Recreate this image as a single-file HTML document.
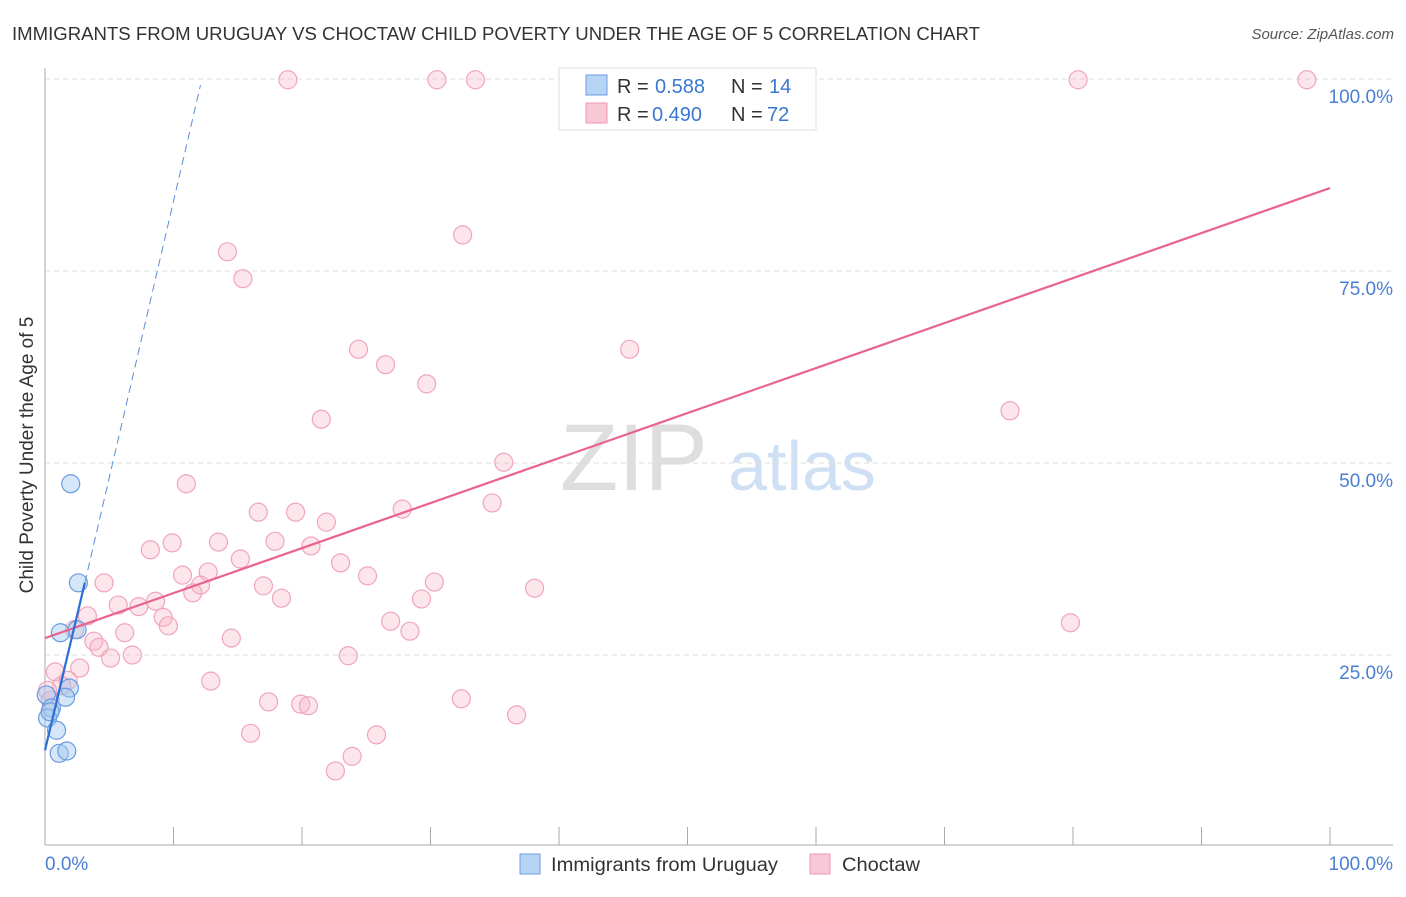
<!DOCTYPE html>
<html><head><meta charset="utf-8"><style>
body{margin:0;background:#fff;font-family:"Liberation Sans",sans-serif;}
svg text{font-family:"Liberation Sans",sans-serif;}
</style></head><body>
<svg id="chart" width="1406" height="892" xmlns="http://www.w3.org/2000/svg">
<text x="12" y="40" font-size="18" fill="#333" textLength="968" lengthAdjust="spacingAndGlyphs">IMMIGRANTS FROM URUGUAY VS CHOCTAW CHILD POVERTY UNDER THE AGE OF 5 CORRELATION CHART</text>
<text x="1394" y="39" font-size="15" fill="#555" font-style="italic" text-anchor="end">Source: ZipAtlas.com</text>
<text x="634" y="490" font-size="95" fill="#dedede" font-family="Liberation Serif" text-anchor="middle">ZIP</text>
<text x="802" y="490" font-size="70" fill="#d0e0f4" text-anchor="middle">atlas</text>
<g id="grid"></g>
<line x1="45" y1="68" x2="45" y2="845" stroke="#aaa"/>
<line x1="45" y1="845" x2="1393" y2="845" stroke="#aaa"/>
<g id="xticks"></g>
<text x="33" y="455" font-size="19" fill="#333" text-anchor="middle" transform="rotate(-90 33 455)">Child Poverty Under the Age of 5</text>
<text x="45" y="870" font-size="19" fill="#4a7fd4">0.0%</text>
<text x="1393" y="870" font-size="19" fill="#4a7fd4" text-anchor="end">100.0%</text>
<g id="marks"></g>
<g>
<rect x="559" y="68" width="257" height="62" fill="#fff" stroke="#ddd"/>
<rect x="586" y="75" width="21" height="20" fill="#b8d4f5" stroke="#6a9be0"/>
<text x="617" y="93" font-size="20" fill="#333">R =</text>
<text x="655" y="93" font-size="20" fill="#3a78d0">0.588</text>
<text x="731" y="93" font-size="20" fill="#333">N =</text>
<text x="769" y="93" font-size="20" fill="#3a78d0">14</text>
<rect x="586" y="103" width="21" height="20" fill="#f9c8d6" stroke="#ee9ab4"/>
<text x="617" y="121" font-size="20" fill="#333">R =</text>
<text x="652" y="121" font-size="20" fill="#3a78d0">0.490</text>
<text x="731" y="121" font-size="20" fill="#333">N =</text>
<text x="767" y="121" font-size="20" fill="#3a78d0">72</text>
</g>
<g><rect x="520" y="854" width="20" height="20" fill="#b8d4f5" stroke="#6a9be0"/><text x="551" y="871" font-size="19" fill="#333" textLength="227" lengthAdjust="spacingAndGlyphs">Immigrants from Uruguay</text></g>
<g><rect x="810" y="854" width="20" height="20" fill="#f9c8d6" stroke="#ee9ab4"/><text x="842" y="871" font-size="19" fill="#333" textLength="78" lengthAdjust="spacingAndGlyphs">Choctaw</text></g>
</svg>
<script>
const yTicks=[25,50,75,100];
const yTickLabels=["25.0%","50.0%","75.0%","100.0%"];
const xTicks=[0,10,20,30,40,50,60,70,80,90,100];
const pinkX=[18.9,30.5,33.5,80.4,98.2,32.5,14.2,15.4,24.4,45.5,26.5,29.7,21.5,75.1,35.7,11.0,34.8,27.8,16.6,19.5,21.9,8.2,9.9,13.5,17.9,20.7,15.2,23.0,10.7,12.7,25.1,30.3,4.6,12.1,17.0,11.5,38.1,18.4,29.3,5.7,7.3,8.6,3.3,9.2,9.6,26.9,28.4,79.8,6.2,2.3,14.5,3.8,4.2,6.8,5.1,23.6,2.7,0.8,1.8,1.3,12.9,32.4,17.4,19.9,20.5,36.7,16.0,25.8,23.9,22.6,0.2,0.4];
const pinkY=[99.9,99.9,99.9,99.9,99.9,79.7,77.5,74.0,64.8,64.8,62.8,60.3,55.7,56.8,50.1,47.3,44.8,44.0,43.6,43.6,42.3,38.7,39.6,39.7,39.8,39.2,37.5,37.0,35.4,35.8,35.3,34.5,34.4,34.1,34.0,33.1,33.7,32.4,32.3,31.5,31.3,32.0,30.1,29.9,28.8,29.4,28.1,29.2,27.9,28.3,27.2,26.8,26.0,25.0,24.6,24.9,23.3,22.8,21.7,21.0,21.6,19.3,18.9,18.6,18.4,17.2,14.8,14.6,11.8,9.9,20.4,19.1];
const blueX=[2.0,2.6,1.2,2.5,0.1,1.9,1.6,0.5,0.2,0.9,1.1,1.7,0.4];
const blueY=[47.3,34.4,27.9,28.3,19.8,20.7,19.5,18.1,16.8,15.2,12.2,12.5,17.6];
const pinkLine=[[0,27.2],[100,85.8]];
const blueLine=[[0,12.6],[3.1,34.4]];
const blueDash=[[3.1,34.4],[12.1,99.2]];
const NS="http://www.w3.org/2000/svg";
const sx=v=>45+v*12.85, sy=v=>847-v*7.68;
function mk(t,a,p){const e=document.createElementNS(NS,t);for(const k in a)e.setAttribute(k,a[k]);p.appendChild(e);return e;}
const grid=document.getElementById('grid');
yTicks.forEach((t,i)=>{
 const l=mk('line',{x1:45,x2:1393,y1:sy(t),y2:sy(t),stroke:'#ddd','stroke-dasharray':'5,4'},grid);
 
 
 const tx=mk('text',{x:1393,y:sy(t)+24,'font-size':19,fill:'#4a7fd4','text-anchor':'end'},grid);
 tx.textContent=yTickLabels[i];
 
 
});
const xt=document.getElementById('xticks');
xTicks.forEach(t=>{
 const l=mk('line',{x1:sx(t),x2:sx(t),y1:827,y2:845,stroke:'#aaa'},xt);
 
 
});
const m=document.getElementById('marks');
pinkX.forEach((x,i)=>{
 const c=mk('circle',{cx:sx(x),cy:sy(pinkY[i]),r:9,fill:'rgba(248,180,200,0.35)',stroke:'#f0a5bc','stroke-width':1.2},m);
 
 
});
blueX.forEach((x,i)=>{
 const c=mk('circle',{cx:sx(x),cy:sy(blueY[i]),r:9,fill:'rgba(160,200,240,0.45)',stroke:'#6a9be0','stroke-width':1.2},m);
 
 
});
const pl=mk('line',{x1:sx(pinkLine[0][0]),y1:sy(pinkLine[0][1]),x2:sx(pinkLine[1][0]),y2:sy(pinkLine[1][1]),stroke:'#e8648e','stroke-width':2.2},m);


const bd=mk('line',{x1:sx(blueDash[0][0]),y1:sy(blueDash[0][1]),x2:sx(blueDash[1][0]),y2:sy(blueDash[1][1]),stroke:'#5a8ed8','stroke-width':1,'stroke-dasharray':'8,5'},m);


const bl=mk('line',{x1:sx(blueLine[0][0]),y1:sy(blueLine[0][1]),x2:sx(blueLine[1][0]),y2:sy(blueLine[1][1]),stroke:'#2a6fd6','stroke-width':2.2},m);


</script>
</body></html>
